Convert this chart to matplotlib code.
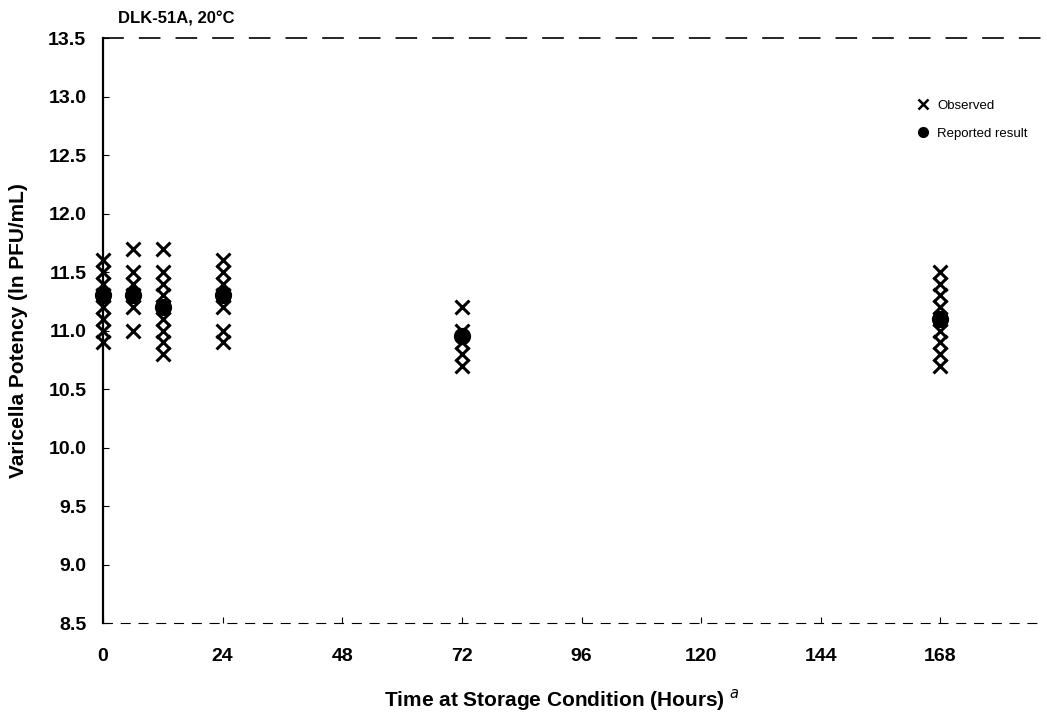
import matplotlib
matplotlib.use("Agg")
import matplotlib.pyplot as plt
from matplotlib.lines import Line2D

plt.rcParams['font.family'] = ['Liberation Sans', 'DejaVu Sans']

# Data
obs_0 = [11.6, 11.5, 11.4, 11.3, 11.2, 11.1, 11.0, 10.9]
obs_6 = [11.7, 11.5, 11.4, 11.3, 11.2, 11.0]
obs_12 = [11.7, 11.5, 11.4, 11.3, 11.2, 11.1, 11.0, 10.9, 10.8]
obs_24 = [11.6, 11.5, 11.4, 11.3, 11.2, 11.0, 10.9]
obs_72 = [11.2, 11.0, 10.9, 10.8, 10.7]
obs_168 = [11.5, 11.4, 11.3, 11.2, 11.1, 11.0, 10.9, 10.8, 10.7]
obs_times = [0, 6, 12, 24, 72, 168]
observed = [obs_0, obs_6, obs_12, obs_24, obs_72, obs_168]

rep_times = [0, 6, 12, 24, 72, 168]
reported = [11.3, 11.3, 11.2, 11.3, 10.95, 11.1]

x_ticks = [0, 24, 48, 72, 96, 120, 144, 168]
y_ticks = [8.5, 9.0, 9.5, 10.0, 10.5, 11.0, 11.5, 12.0, 12.5, 13.0, 13.5]

fig = plt.figure(figsize=(10.47, 7.23), dpi=100)
ax = fig.add_axes([0.0984, 0.1383, 0.895, 0.809])

for t, vals in zip(obs_times, observed):
    ax.scatter([t] * len(vals), vals, marker='x', s=100, c='black',
               linewidths=2.2, zorder=3, clip_on=False)
ax.scatter(rep_times, reported, marker='o', s=130, c='black', zorder=4,
           clip_on=False)

ax.set_xlim(0, 188)
ax.set_ylim(8.5, 13.5)
ax.set_xticks(x_ticks)
ax.set_xticklabels([str(t) for t in x_ticks], fontweight='bold', fontsize=14)
ax.set_yticks(y_ticks)
ax.set_yticklabels([f"{v:.1f}" for v in y_ticks], fontweight='bold', fontsize=14)
ax.tick_params(axis='x', direction='in', length=4, pad=18)
ax.tick_params(axis='y', direction='in', length=4, pad=12)

ax.spines['right'].set_visible(False)
ax.spines['left'].set_linewidth(1.6)
ax.spines['top'].set_linewidth(1.2)
ax.spines['top'].set_linestyle((0, (12, 10)))
ax.spines['bottom'].set_linewidth(0.8)
ax.spines['bottom'].set_linestyle((0, (8, 8)))

ax.set_ylabel("Varicella Potency (ln PFU/mL)", fontweight='bold', fontsize=15)
ax.yaxis.set_label_coords(-0.08, 0.5)
ax.set_xlabel("Time at Storage Condition (Hours) $^{a}$", fontweight='bold', fontsize=15)
ax.xaxis.set_label_coords(0.49, -0.11)

fig.text(0.113, 0.974, "DLK-51A, 20°C", fontweight='bold', fontsize=12,
         ha='left', va='center')

handles = [
    Line2D([], [], marker='x', linestyle='none', color='black', markersize=7,
           markeredgewidth=1.8, label='Observed'),
    Line2D([], [], marker='o', linestyle='none', color='black', markersize=7,
           label='Reported result'),
]
ax.legend(handles=handles, loc='upper left', bbox_to_anchor=(0.855, 0.915),
          frameon=False, fontsize=9.5, handletextpad=0.6, labelspacing=1.2,
          handlelength=1.0)

fig.savefig("out.png", dpi=100)
